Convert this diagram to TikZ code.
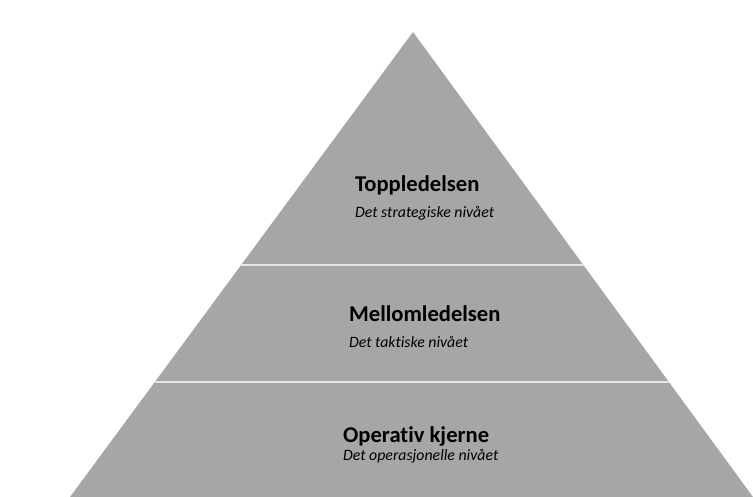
\documentclass[tikz,border=0pt]{standalone}
\usepackage{fontspec}
\setmainfont[Ligatures=NoCommon]{Carlito}
\usetikzlibrary{calc}
\begin{document}
\begin{tikzpicture}[x=1pt,y=-1pt,
  level/.style={font=\bfseries\fontsize{22.6}{26}\selectfont, anchor=base west, inner sep=0pt},
  sublevel/.style={font=\itshape\fontsize{15.8}{18}\selectfont, anchor=base west, inner sep=0pt},
  divider/.style={draw=black!10, line width=2.6pt}]
  \useasboundingbox (0,0) rectangle (753,497);
  % pyramid body
  \coordinate (apex) at (413,32);
  \coordinate (bl) at (70,497);
  \coordinate (br) at (753,497);
  \fill[black!35] (apex) -- (bl) -- (br) -- cycle;
  % level dividers, edge to edge
  \draw[divider] ($(apex)!0.5011!(bl)$) -- ($(apex)!0.5011!(br)$);
  \draw[divider] ($(apex)!0.7527!(bl)$) -- ($(apex)!0.7527!(br)$);
  % labels
  \node[level] (top) at (355,192) {Toppledelsen};
  \node[sublevel] (topsub) at (355,218) {Det strategiske nivået};
  \node[level] (mid) at (349,322) {Mellomledelsen};
  \node[sublevel] (midsub) at (349,348) {Det taktiske nivået};
  \node[level] (base) at (343,442) {Operativ kjerne};
  \node[sublevel] (basesub) at (343,460) {Det operasjonelle nivået};
\end{tikzpicture}
\end{document}
